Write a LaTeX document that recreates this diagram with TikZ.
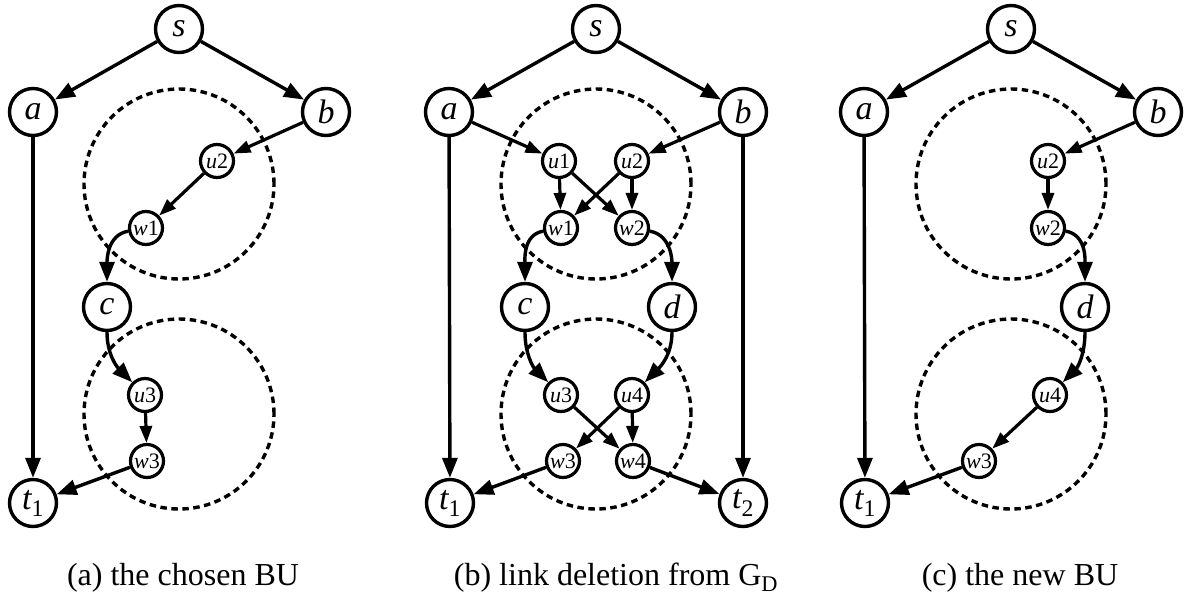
\documentclass[tikz,border=0pt]{standalone}
\usepackage{fontspec}
\setmainfont{Liberation Serif}
\usetikzlibrary{arrows.meta}
\begin{document}
\begin{tikzpicture}[x=1pt,y=-1pt,
  big/.style={circle,draw,line width=3.4pt,minimum size=47pt,inner sep=0pt,font=\fontsize{34}{34}\selectfont\itshape},
  small/.style={circle,draw,line width=3.2pt,minimum size=33pt,inner sep=0pt,font=\fontsize{22}{22}\selectfont},
  edge/.style={line width=3.4pt,-{Triangle[length=20pt,width=15pt]}},
  sedge/.style={line width=3.2pt,-{Triangle[length=17pt,width=12pt]}},
  grp/.style={draw,line width=3.4pt,dash pattern=on 6.5pt off 4.5pt},
  captext/.style={anchor=base,inner sep=0pt,font=\fontsize{32}{32}\selectfont}]
\useasboundingbox (0,0) rectangle (1192,595);

% ---------- panel (a) ----------
\begin{scope}[xshift=179pt]
  \draw[grp] (0,184) circle (95pt);
  \draw[grp] (0,414) circle (95pt);
  \node[big] (As) at (0,29) {s};
  \node[big] (Aa) at (-146,112) {a};
  \node[big] (Ab) at (147,112) {b};
  \node[small] (Au2) at (38,161) {\textit{u}2};
  \node[small] (Aw1) at (-33,228) {\textit{w}1};
  \node[big] (Ac) at (-72,307) {c};
  \node[small] (Au3) at (-34,395) {\textit{u}3};
  \node[small] (Aw3) at (-32,461) {\textit{w}3};
  \node[big] (At1) at (-146,503) {t\textsubscript{\upshape 1}};
  \draw[edge] (As) -- (Aa);
  \draw[edge] (As) -- (Ab);
  \draw[edge] (Aa) -- (At1);
  \draw[sedge] (Ab) -- (Au2);
  \draw[sedge] (Au2) -- (Aw1);
  \draw[edge] (Aw1) to[out=190,in=90] (Ac);
  \draw[edge] (Ac) to[out=-90,in=135] (Au3);
  \draw[sedge] (Au3) -- (Aw3);
  \draw[edge] (Aw3) -- (At1);
\end{scope}

% ---------- panel (b) ----------
\begin{scope}[xshift=596pt]
  \draw[grp] (0,184) circle (95pt);
  \draw[grp] (0,414) circle (95pt);
  \node[big] (Bs) at (0,29) {s};
  \node[big] (Ba) at (-147,112) {a};
  \node[big] (Bb) at (147,112) {b};
  \node[small] (Bu1) at (-37,161) {\textit{u}1};
  \node[small] (Bu2) at (36,161) {\textit{u}2};
  \node[small] (Bw1) at (-35,228) {\textit{w}1};
  \node[small] (Bw2) at (36,228) {\textit{w}2};
  \node[big] (Bc) at (-71,307) {c};
  \node[big] (Bd) at (76,307) {d};
  \node[small] (Bu3) at (-35,395) {\textit{u}3};
  \node[small] (Bu4) at (36,395) {\textit{u}4};
  \node[small] (Bw3) at (-33,461) {\textit{w}3};
  \node[small] (Bw4) at (37,461) {\textit{w}4};
  \node[big] (Bt1) at (-146,503) {t\textsubscript{\upshape 1}};
  \node[big] (Bt2) at (147,503) {t\textsubscript{\upshape 2}};
  \draw[edge] (Bs) -- (Ba);
  \draw[edge] (Bs) -- (Bb);
  \draw[edge] (Ba) -- (Bt1);
  \draw[edge] (Bb) -- (Bt2);
  \draw[sedge] (Ba) -- (Bu1);
  \draw[sedge] (Bb) -- (Bu2);
  \draw[sedge] (Bu1) -- (Bw1);
  \draw[sedge] (Bu1) -- (Bw2);
  \draw[sedge] (Bu2) -- (Bw1);
  \draw[sedge] (Bu2) -- (Bw2);
  \draw[edge] (Bw1) to[out=190,in=90] (Bc);
  \draw[edge] (Bw2) to[out=-10,in=90] (Bd);
  \draw[edge] (Bc) to[out=-90,in=135] (Bu3);
  \draw[edge] (Bd) to[out=-90,in=45] (Bu4);
  \draw[sedge] (Bu3) -- (Bw4);
  \draw[sedge] (Bu4) -- (Bw3);
  \draw[sedge] (Bu4) -- (Bw4);
  \draw[edge] (Bw3) -- (Bt1);
  \draw[edge] (Bw4) -- (Bt2);
\end{scope}

% ---------- panel (c) ----------
\begin{scope}[xshift=1011pt]
  \draw[grp] (0,184) circle (95pt);
  \draw[grp] (0,414) circle (95pt);
  \node[big] (Cs) at (0,29) {s};
  \node[big] (Ca) at (-147,112) {a};
  \node[big] (Cb) at (147,112) {b};
  \node[small] (Cu2) at (37,161) {\textit{u}2};
  \node[small] (Cw2) at (37,228) {\textit{w}2};
  \node[big] (Cd) at (74,307) {d};
  \node[small] (Cu4) at (39,395) {\textit{u}4};
  \node[small] (Cw3) at (-32,461) {\textit{w}3};
  \node[big] (Ct1) at (-146,503) {t\textsubscript{\upshape 1}};
  \draw[edge] (Cs) -- (Ca);
  \draw[edge] (Cs) -- (Cb);
  \draw[edge] (Ca) -- (Ct1);
  \draw[sedge] (Cb) -- (Cu2);
  \draw[sedge] (Cu2) -- (Cw2);
  \draw[edge] (Cw2) to[out=-10,in=90] (Cd);
  \draw[edge] (Cd) to[out=-90,in=45] (Cu4);
  \draw[sedge] (Cu4) -- (Cw3);
  \draw[edge] (Cw3) -- (Ct1);
\end{scope}

% ---------- captions ----------
\node[captext] (capA) at (183,585) {(a) the chosen BU};
\node[captext] (capB) at (616,585) {(b) link deletion from G\textsubscript{D}};
\node[captext] (capC) at (1020,585) {(c) the new BU};
\end{tikzpicture}
\end{document}
